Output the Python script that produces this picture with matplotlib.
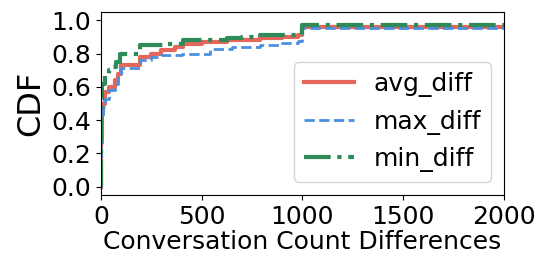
import matplotlib
matplotlib.use('Agg')
import matplotlib.pyplot as plt

# step points of each CDF (count difference, cumulative fraction)
avg_x = [0, 2, 5, 10, 20, 40, 70, 85, 99, 194, 250, 300, 367, 409, 500, 625, 700, 789, 900, 978, 1000, 2000]
avg_y = [0.0, 0.3, 0.45, 0.50, 0.57, 0.60, 0.64, 0.68, 0.73, 0.78, 0.80, 0.82, 0.84, 0.86, 0.87, 0.88, 0.885, 0.894, 0.90, 0.91, 0.96, 0.96]

max_x = [0, 2, 5, 10, 20, 40, 70, 85, 99, 194, 250, 300, 400, 541, 650, 789, 900, 980, 1000, 2000]
max_y = [0.0, 0.25, 0.42, 0.48, 0.53, 0.58, 0.62, 0.67, 0.716, 0.76, 0.78, 0.79, 0.80, 0.83, 0.84, 0.854, 0.865, 0.874, 0.955, 0.955]

min_x = [0, 2, 5, 20, 40, 55, 75, 94, 194, 280, 330, 409, 500, 625, 700, 789, 900, 980, 1000, 2000]
min_y = [0.0, 0.5, 0.62, 0.67, 0.70, 0.72, 0.75, 0.80, 0.85, 0.85, 0.86, 0.88, 0.885, 0.894, 0.90, 0.91, 0.912, 0.915, 0.974, 0.974]

fig = plt.figure(figsize=(5.43, 2.58), dpi=100)
ax = fig.add_axes([0.186, 0.244, 0.742, 0.709])

ax.plot(avg_x, avg_y, drawstyle='steps-post', color='#e5675c', lw=3, label='avg_diff')
ax.plot(max_x, max_y, drawstyle='steps-post', color='#4a90e2', lw=2, ls='--', label='max_diff')
ax.plot(min_x, min_y, drawstyle='steps-post', color='#2e8b57', lw=3, ls='-.', label='min_diff')

ax.set_xlim(0, 2000)
ax.set_ylim(-0.05, 1.05)
ax.set_xticks([0, 500, 1000, 1500, 2000])
ax.set_yticks([0.0, 0.2, 0.4, 0.6, 0.8, 1.0])
ax.tick_params(labelsize=18)
ax.set_xlabel('Conversation Count Differences', fontsize=18, labelpad=1)
ax.set_ylabel('CDF', fontsize=23)
ax.legend(fontsize=18, loc='lower right', bbox_to_anchor=(0.968, 0.071),
          borderaxespad=0, handlelength=2.0)

fig.savefig('out.png', dpi=100)
